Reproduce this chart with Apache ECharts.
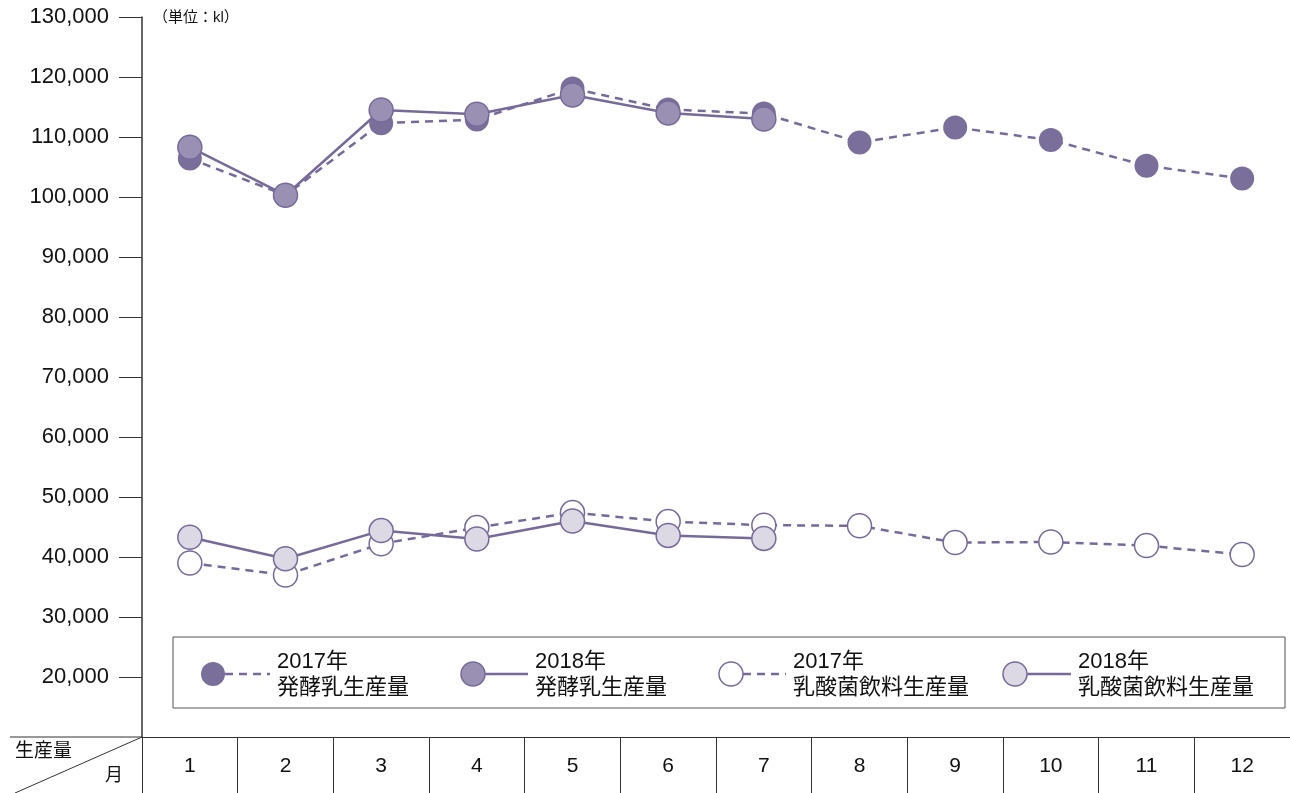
<!DOCTYPE html>
<html>
<head>
<meta charset="utf-8">
<script src="https://cdn.jsdelivr.net/npm/echarts@6/dist/echarts.min.js"></script>
<style>
  html, body { margin: 0; padding: 0; background: #fff; }
  #chart { width: 1290px; height: 793px; }
</style>
</head>
<body>
<div id="chart"></div>
<script>
// 月
const months = ['1', '2', '3', '4', '5', '6', '7', '8', '9', '10', '11', '12']
// 発酵乳生産量
const fermented2017 = [106400, 100300, 112300, 112900, 118100, 114600, 113900, 109100, 111600, 109500, 105200, 103100]
const fermented2018 = [108300, 100300, 114500, 113800, 117000, 114000, 113000]
// 乳酸菌飲料生産量
const lactic2017 = [39000, 37000, 42200, 44900, 47400, 45900, 45300, 45200, 42400, 42500, 41900, 40400]
const lactic2018 = [43300, 39700, 44400, 43000, 46000, 43600, 43100]
// 凡例
const legendNames = ['2017年\n発酵乳生産量', '2018年\n発酵乳生産量', '2017年\n乳酸菌飲料生産量', '2018年\n乳酸菌飲料生産量']

const FONT = "'Liberation Sans', Arial, 'Noto Sans CJK JP', sans-serif"
const LINE = '#776a9b'
const DARK = '#7a6e9a'
const MID = '#9a90b3'
const LIGHT = '#dcd8e4'

const myChart = echarts.init(document.getElementById('chart'))

const makeSeries = (name, data, fill, dashed, z) => ({
  name,
  type: 'line',
  data,
  z,
  symbol: 'circle',
  symbolSize: 24,
  lineStyle: { color: LINE, width: 2.5, type: dashed ? [8, 6] : 'solid' },
  itemStyle: { color: fill, borderColor: LINE, borderWidth: fill === DARK ? 0 : 1.5 },
  emphasis: { disabled: true },
  animation: false
})

// 凡例（図形で描く）
const legendItems = [
  { cx: 213, fill: DARK, border: 0, dashed: true, tx: 277 },
  { cx: 473, fill: MID, border: 1.5, dashed: false, tx: 535 },
  { cx: 731, fill: '#fff', border: 1.5, dashed: true, tx: 793 },
  { cx: 1015, fill: LIGHT, border: 1.5, dashed: false, tx: 1078 }
]
const legendGraphics = []
legendItems.forEach((it, i) => {
  legendGraphics.push({
    type: 'line',
    shape: { x1: it.cx + 12, y1: 674, x2: it.tx - 7, y2: 674 },
    style: { stroke: LINE, lineWidth: 2.5, lineDash: it.dashed ? [8, 6] : null }
  })
  legendGraphics.push({
    type: 'circle',
    shape: { cx: it.cx, cy: 674, r: 12 },
    style: { fill: it.fill, stroke: LINE, lineWidth: it.border }
  })
  legendGraphics.push({
    type: 'text',
    x: it.tx,
    y: 649,
    style: { text: legendNames[i], font: `22px ${FONT}`, fill: '#111', lineHeight: 26 }
  })
})

const option = {
  animation: false,
  grid: { left: 142, right: 0, top: 17, bottom: 56, containLabel: false },
  xAxis: {
    type: 'category',
    data: months,
    boundaryGap: true,
    axisLine: { show: true, lineStyle: { color: '#333', width: 1 } },
    axisTick: { show: true, interval: 0, length: 56, lineStyle: { color: '#333', width: 1 } },
    axisLabel: { margin: 19, fontSize: 21, color: '#111', fontFamily: FONT, interval: 0 },
    splitLine: { show: false }
  },
  yAxis: {
    type: 'value',
    min: 10000,
    max: 130000,
    interval: 10000,
    axisLine: { show: true, lineStyle: { color: '#333', width: 1.5 } },
    axisTick: { show: true, length: 23, lineStyle: { color: '#333', width: 1 } },
    axisLabel: {
      margin: 33,
      fontSize: 22,
      color: '#111',
      fontFamily: FONT,
      showMinLabel: false,
      formatter: v => v.toLocaleString('en-US')
    },
    splitLine: { show: false }
  },
  graphic: [
    {
      type: 'text',
      x: 153,
      y: 10,
      style: { text: '（単位：kl）', font: `15px ${FONT}`, fill: '#111' }
    },
    // 表の左端
    { type: 'line', shape: { x1: 10, y1: 737, x2: 142, y2: 737 }, style: { stroke: '#333', lineWidth: 1 } },
    { type: 'line', shape: { x1: 15, y1: 793, x2: 142, y2: 737 }, style: { stroke: '#333', lineWidth: 1 } },
    { type: 'text', x: 15, y: 742, style: { text: '生産量', font: `19px ${FONT}`, fill: '#111' } },
    { type: 'text', x: 105, y: 767, style: { text: '月', font: `18px ${FONT}`, fill: '#111' } },
    // 凡例の枠
    {
      type: 'rect',
      shape: { x: 173, y: 637, width: 1112, height: 71 },
      style: { fill: '#fff', stroke: '#555', lineWidth: 1 }
    },
    ...legendGraphics
  ],
  series: [
    makeSeries('2017年発酵乳生産量', fermented2017, DARK, true, 2),
    makeSeries('2018年発酵乳生産量', fermented2018, MID, false, 3),
    makeSeries('2017年乳酸菌飲料生産量', lactic2017, '#fff', true, 2),
    makeSeries('2018年乳酸菌飲料生産量', lactic2018, LIGHT, false, 3)
  ]
}
myChart.setOption(option)
</script>
</body>
</html>
